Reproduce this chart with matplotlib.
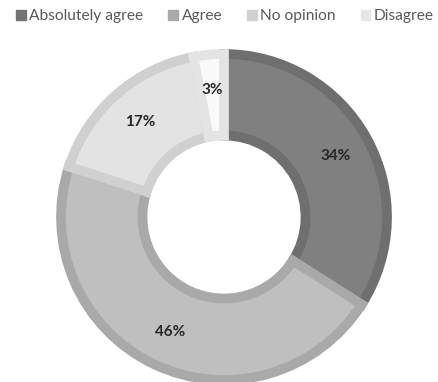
import matplotlib.pyplot as plt

# datos del grafico
categorias = ["Absolutely agree", "Agree", "No opinion", "Disagree"]
valores = [34, 46, 17, 3]
relleno = ['#808080', '#bfbfbf', '#e3e3e3', '#f9f9f9']
bordes = ['#6f6f6f', '#a9a9a9', '#d0d0d0', '#e4e4e4']
marcadores = ['#737373', '#a9a9a9', '#d0d0d0', '#e6e6e6']

plt.rcParams['font.family'] = ['Lato', 'DejaVu Sans']

fig = plt.figure(figsize=(4.38, 3.82), dpi=100)
W, H = 438, 382
cx, cy, r = 224, 217, 163
ax = fig.add_axes([(cx - r) / W, (H - cy - r) / H, 2 * r / W, 2 * r / H])

wedges, textos, pcts = ax.pie(
    valores, colors=relleno, startangle=90, counterclock=False,
    autopct=lambda p: f'{p:.0f}%', pctdistance=0.78, radius=1.0,
    wedgeprops=dict(width=0.5, linewidth=7),
    textprops=dict(fontsize=11, fontweight='bold', color='#262626'))

# borde solo hacia dentro de cada sector
for w, b in zip(wedges, bordes):
    w.set_edgecolor(b)
    w.set_clip_path(w)

ax.set_xlim(-1, 1)
ax.set_ylim(-1, 1)
ax.set_aspect('equal')
ax.axis('off')

handles = [plt.Rectangle((0, 0), 1, 1, color=c) for c in marcadores]
fig.legend(handles, categorias, loc='upper center', bbox_to_anchor=(0.514, 1.012),
           ncol=4, frameon=False, fontsize=11.2, labelcolor='#595959',
           handlelength=0.6, handleheight=0.6, handletextpad=0.25, columnspacing=1.6)

fig.savefig('out.png', dpi=100)
